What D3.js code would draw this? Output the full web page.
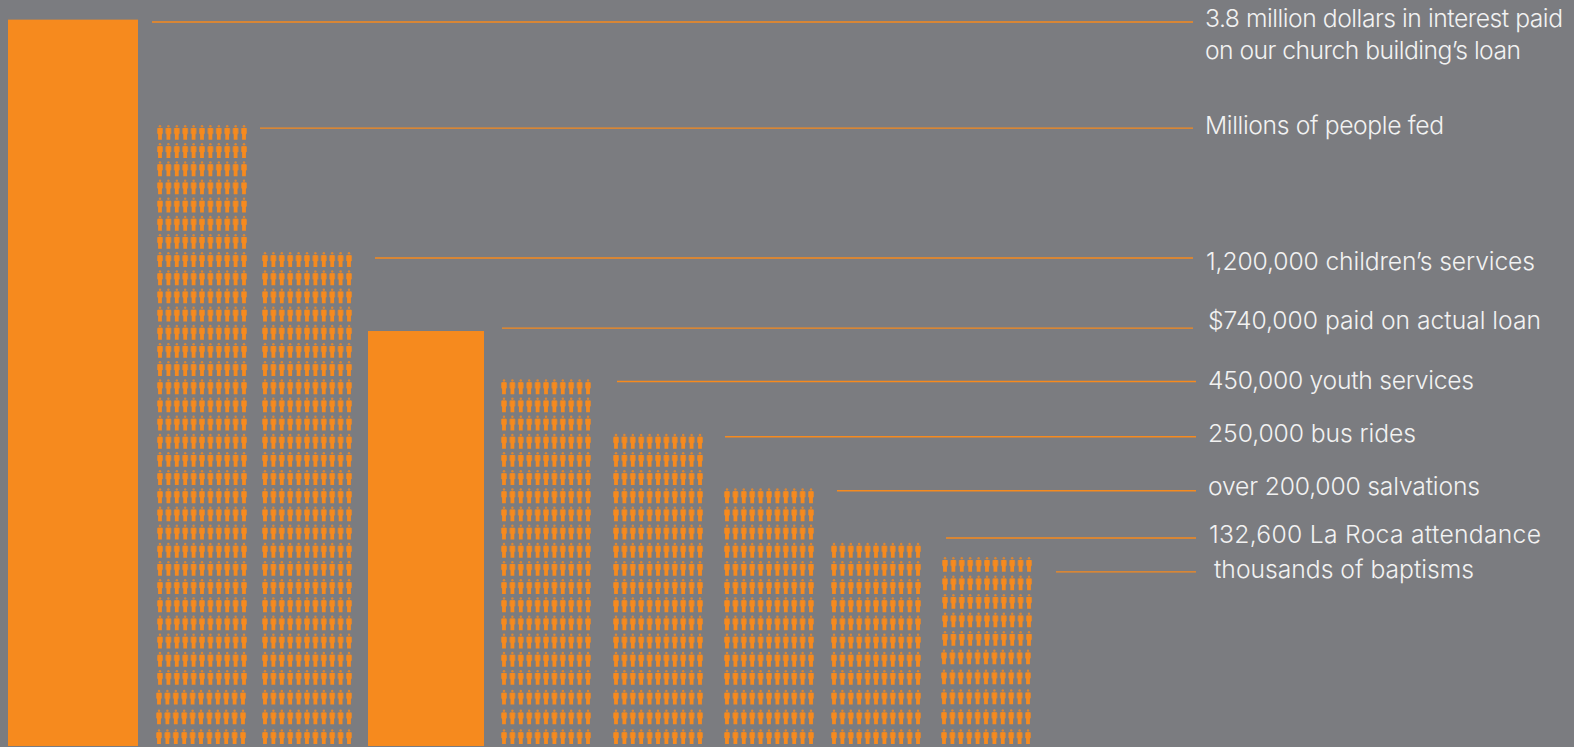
<!DOCTYPE html>
<html>
<head>
<meta charset="utf-8">
<script src="https://cdnjs.cloudflare.com/ajax/libs/d3/7.8.5/d3.min.js"></script>
<style>
  html, body { margin: 0; padding: 0; background: #7b7c80; overflow: hidden; }
  svg { display: block; }
  .label { font-family: Inter, "Liberation Sans", sans-serif; font-weight: 300; font-size: 24.7px; fill: #f2f2f2; }
  .leader { stroke: #f68a1e; stroke-width: 1.4; }
</style>
</head>
<body>
<div id="app"></div>
<script>
// the values, in rows of little people. a solid bar is as tall as that many rows
var categories = ['interest', 'fed', 'children', 'loan', 'youth', 'bus', 'salvations', 'attendance', 'baptisms'];
var kinds = ['bar', 'people', 'people', 'bar', 'people', 'people', 'people', 'people', 'people'];
var rows = [39.8, 34, 27, 22.66, 20, 17, 14, 11, 10];
var leaderLevels = [38.67, 32.83, 25.68, 21.82, 18.88, 15.84, 12.87, 10.27, 8.4];
var labels = [
  ['3.8 million dollars in interest paid', 'on our church building\u2019s loan'],
  ['Millions of people fed'],
  ['1,200,000 children\u2019s services'],
  ['$740,000 paid on actual loan'],
  ['450,000 youth services'],
  ['250,000 bus rides'],
  ['over 200,000 salvations'],
  ['132,600 La Roca attendance'],
  ['thousands of baptisms']
];
// how wide each line of text is set, so the substitute font fits
var labelWidths = [[358, 316], [239], [329], [333], [266], [208], [272], [332], [260]];

var width = 1574, height = 747;
var orange = '#f68a1e';
var perRow = 11;

var svg = d3.select('#app')
  .append('svg')
    .attr('width', width)
    .attr('height', height);

// scales, rows are a bit further apart at the bottom of the picture
var y = d3.scaleLinear().domain([0, 3, 33]).range([729.3, 670, 125]);
var yLast = d3.scaleLinear().domain([0, 4, 9]).range([729.3, 649.5, 557]);
var base = 746;
var left = d3.scaleOrdinal().domain(categories).range([8, 156, 261, 368, 500, 612, 723, 830, 941]);
var barWidth = d3.scaleOrdinal().domain(categories).range([130, 0, 0, 116, 0, 0, 0, 0, 0]);
var leaderStart = d3.scaleOrdinal().domain(categories).range([152, 260, 375, 502, 617, 725, 837, 946, 1056]);
var leaderEnd = d3.scaleOrdinal().domain(categories).range([1193, 1193, 1193, 1193, 1196, 1196, 1196, 1196, 1196]);
var labelX = d3.scaleOrdinal().domain(categories).range([1205, 1205, 1206, 1208, 1208, 1208, 1208, 1209, 1214]);
var labelY = d3.scaleOrdinal().domain(categories).range([27, 134, 270, 329, 389, 442, 495, 543, 578]);
var across = d3.scaleLinear().domain([0, perRow - 1]).range([0, 84]);

var data = categories.map(function(c, i) {
  return { name: c, kind: kinds[i], rows: rows[i], level: leaderLevels[i], label: labels[i], widths: labelWidths[i] };
});

// solid bars
svg.append('g')
  .selectAll('rect')
  .data(data.filter(function(d) { return d.kind == 'bar'; }))
  .enter().append('rect')
    .attr('x', function(d) { return left(d.name); })
    .attr('y', function(d) { return y(d.rows - 1); })
    .attr('width', function(d) { return barWidth(d.name); })
    .attr('height', function(d) { return base - y(d.rows - 1); })
    .attr('fill', orange);

// one little person, drawn from its top centre. head and arms are paler in the reference
var arms = 'M-3,3.6 l0.6,-0.6 h4.8 l0.6,0.6 v5.2 h-6 z';
var torso = 'M-2.1,3 h4.2 v6.4 h-0.2 v5.4 h-3.8 v-5.4 h-0.2 z';

var people = [];
data.filter(function(d) { return d.kind == 'people'; }).forEach(function(d) {
  d3.range(d.rows).forEach(function(r) {
    d3.range(perRow).forEach(function(n) {
      people.push({ name: d.name, row: r, n: n });
    });
  });
});

var figure = svg.append('g')
  .selectAll('g')
  .data(people)
  .enter().append('g')
    .attr('fill', orange)
    .attr('transform', function(d) {
      var lastCol = d.name == 'baptisms';
      var ty = lastCol ? yLast(d.row) : y(d.row);
      var shift = (lastCol ? d.row <= 4 : (d.row <= 2 && d.name == 'fed')) ? -1 : 0;
      return 'translate(' + (left(d.name) + 4 + across(d.n) + shift) + ',' + ty + ')';
    });

figure.append('circle').attr('cy', 1.2).attr('r', 1.25).attr('fill-opacity', 0.8);
figure.append('path').attr('d', arms).attr('fill-opacity', 0.7);
figure.append('path').attr('d', torso);

// leader lines
svg.append('g')
  .selectAll('line')
  .data(data)
  .enter().append('line')
    .attr('class', 'leader')
    .attr('x1', function(d) { return leaderStart(d.name); })
    .attr('x2', function(d) { return leaderEnd(d.name); })
    .attr('y1', function(d) { return y(d.level); })
    .attr('y2', function(d) { return y(d.level); });

// labels
var text = svg.append('g')
  .selectAll('text')
  .data(data)
  .enter().append('text')
    .attr('class', 'label')
    .attr('y', function(d) { return labelY(d.name); });

text.selectAll('tspan')
  .data(function(d) {
    return d.label.map(function(t, i) { return { t: t, x: labelX(d.name), w: d.widths[i] }; });
  })
  .enter().append('tspan')
    .attr('x', function(d) { return d.x; })
    .attr('dy', function(d, i) { return i ? 32 : 0; })
    .attr('textLength', function(d) { return d.w; })
    .attr('lengthAdjust', 'spacing')
    .text(function(d) { return d.t; });
</script>
</body>
</html>
